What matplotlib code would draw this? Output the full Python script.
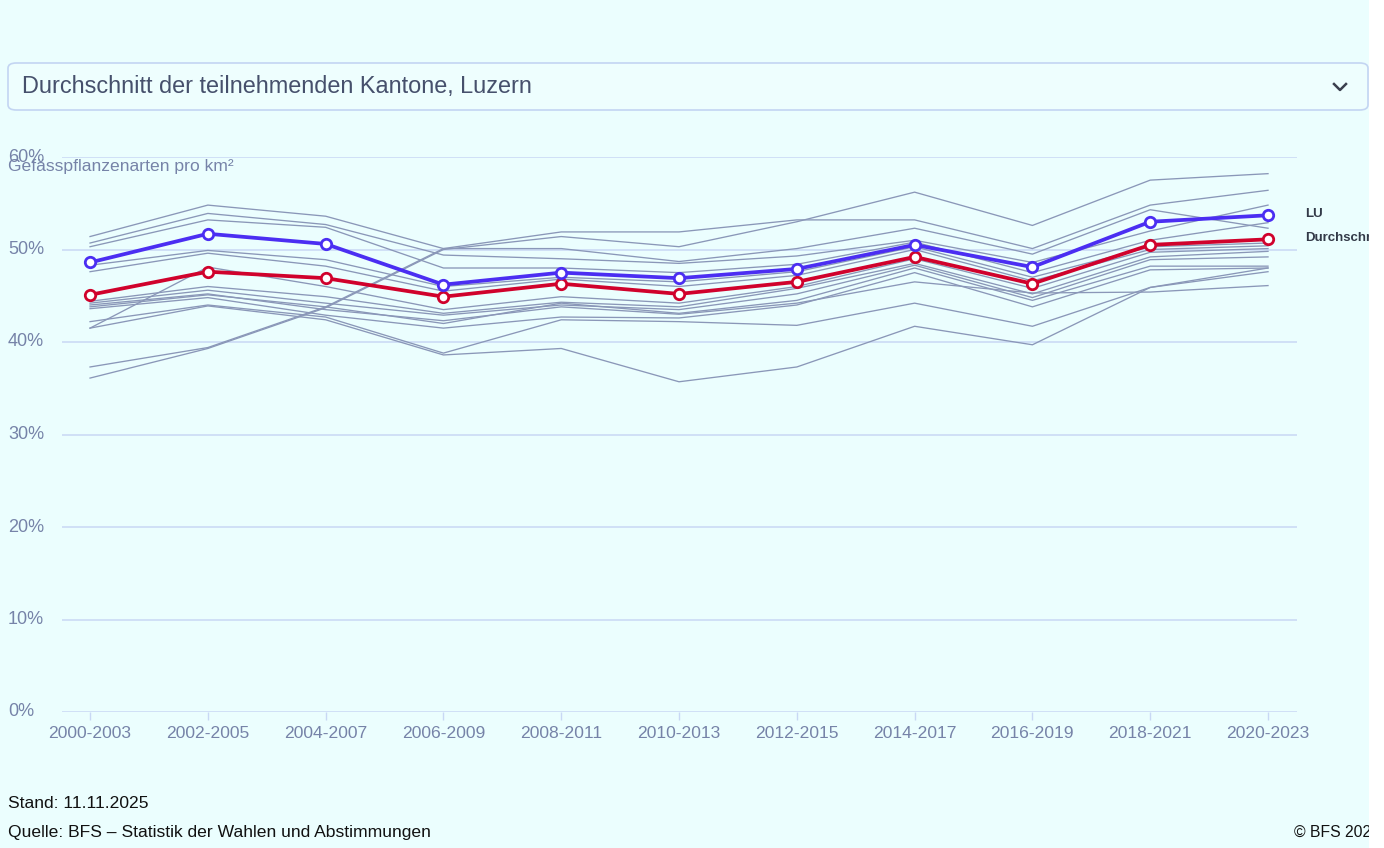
import matplotlib
matplotlib.use("Agg")
import matplotlib.pyplot as plt
from matplotlib.patches import FancyBboxPatch, Rectangle
from matplotlib.lines import Line2D

plt.rcParams["font.family"] = ["Liberation Sans", "DejaVu Sans"]

# ---------- Data ----------
periods = ["2000-2003", "2002-2005", "2004-2007", "2006-2009", "2008-2011", "2010-2013",
           "2012-2015", "2014-2017", "2016-2019", "2018-2021", "2020-2023"]

lu = [48.6, 51.7, 50.6, 46.2, 47.5, 46.9, 47.9, 50.5, 48.1, 53.0, 53.7]
avg = [45.1, 47.6, 46.9, 44.9, 46.3, 45.2, 46.5, 49.2, 46.3, 50.5, 51.1]

# other cantons (grey background lines)
other_cantons = [
    [36.1, 39.3, 43.7, 50.0, 51.4, 50.3, 53.0, 56.2, 52.6, 57.5, 58.2],
    [37.3, 39.4, 43.8, 50.1, 51.9, 51.9, 53.2, 53.2, 50.1, 54.8, 56.4],
    [51.4, 54.8, 53.6, 50.1, 50.1, 48.7, 50.1, 52.3, 49.5, 54.3, 52.3],
    [50.7, 53.9, 52.7, 49.4, 49.0, 48.5, 49.3, 51.0, 48.6, 52.0, 54.8],
    [50.3, 53.2, 52.4, 48.0, 48.0, 47.5, 48.4, 50.8, 47.5, 51.0, 52.9],
    [48.3, 49.9, 48.9, 46.0, 47.0, 46.5, 47.6, 50.3, 47.0, 50.3, 50.7],
    [47.6, 49.6, 48.2, 45.5, 46.8, 46.0, 47.2, 50.0, 46.6, 50.0, 50.4],
    [41.5, 48.1, 46.0, 43.5, 44.9, 44.2, 46.0, 49.0, 45.8, 49.7, 50.1],
    [44.4, 46.0, 44.9, 43.1, 44.3, 43.8, 45.8, 48.5, 45.2, 49.2, 49.8],
    [44.2, 45.6, 44.2, 42.9, 44.0, 43.5, 45.2, 48.3, 44.8, 48.9, 49.2],
    [43.8, 45.1, 43.8, 42.0, 44.2, 43.1, 44.5, 48.0, 44.5, 48.2, 48.2],
    [43.6, 44.8, 42.9, 41.5, 42.7, 42.6, 44.0, 47.5, 43.8, 47.8, 48.0],
    [42.2, 44.0, 42.7, 38.8, 42.4, 42.2, 41.8, 44.2, 41.7, 45.9, 47.6],
    [41.5, 43.9, 42.4, 38.6, 39.3, 35.7, 37.3, 41.7, 39.7, 45.9, 48.0],
    [44.0, 45.2, 43.5, 42.3, 43.8, 43.0, 44.2, 46.5, 45.3, 45.4, 46.1],
]

yticks = [0, 10, 20, 30, 40, 50, 60]

BG = "#ebfefe"
GRID = "#c8d8f4"
TXT = "#7683a8"
GREY = "#8a97b8"
BLUE = "#4b2ef2"
RED = "#d0022c"

W, H = 1384, 848
fig = plt.figure(figsize=(W / 100, H / 100), dpi=100, facecolor=BG)

def px(x, y):
    return x / W, 1 - y / H

# ---------- Dropdown ----------
box = FancyBboxPatch(px(8, 110), (1368 - 8) / W, (110 - 63) / H,
                     boxstyle="round,pad=0,rounding_size=0.006",
                     transform=fig.transFigure, facecolor="#eefefe",
                     edgecolor="#c3d5f2", lw=1.2)
fig.add_artist(box)
fig.text(*px(22, 87), "Durchschnitt der teilnehmenden Kantone, Luzern",
         fontsize=16.9, color="#46506c", va="center", ha="left")
cx, cy = 1340, 87
fig.add_artist(Line2D([(cx - 6) / W, cx / W, (cx + 6) / W],
                      [1 - (cy - 3) / H, 1 - (cy + 3) / H, 1 - (cy - 3) / H],
                      transform=fig.transFigure, color="#3a3f4e", lw=1.8))

# ---------- Chart ----------
ax = fig.add_axes([62 / W, 1 - 712 / H, (1297 - 62) / W, (712 - 157) / H])
ax.set_facecolor(BG)
x = list(range(len(periods)))

for vals in other_cantons:
    ax.plot(x, vals, color=GREY, lw=0.95, zorder=2)

ax.plot(x, avg, color=RED, lw=2.7, marker="o", markersize=7.5,
        markerfacecolor="white", markeredgecolor=RED, markeredgewidth=2, zorder=4)
ax.plot(x, lu, color=BLUE, lw=2.7, marker="o", markersize=7.5,
        markerfacecolor="white", markeredgecolor=BLUE, markeredgewidth=2, zorder=5)

ax.set_xlim(-0.238, 10.246)
ax.set_ylim(0, 60)
ax.set_yticks(yticks)
ax.set_yticklabels([])
for y in yticks:
    ax.axhline(y, color=GRID, lw=1.1, zorder=1)
    fig.text(8 / W, 1 - (712 - y * 9.25) / H, f"{y}%", fontsize=13,
             color=TXT, ha="left", va="center")

ax.set_xticks(x)
ax.set_xticklabels(periods, fontsize=12.6, color=TXT)
ax.tick_params(axis="x", length=6, width=1, color=GRID, pad=4)
ax.tick_params(axis="y", length=0)
for s in ax.spines.values():
    s.set_visible(False)

fig.text(8 / W, 1 - 167 / H, "Gefässpflanzenarten pro km²", fontsize=12.6,
         color=TXT, ha="left", va="center")

# end labels
ax.annotate("LU", xy=(x[-1], lu[-1]), xytext=(26.5, 1), textcoords="offset points",
            fontsize=9.5, fontweight="bold", color="#333a48", va="center",
            annotation_clip=False)
ax.annotate("Durchschnitt", xy=(x[-1], avg[-1]), xytext=(26.5, 1),
            textcoords="offset points", fontsize=9.5, fontweight="bold",
            color="#333a48", va="center", annotation_clip=False)

# ---------- Footer ----------
fig.text(*px(8, 803), "Stand: 11.11.2025", fontsize=12.6, color="#111111", va="center")
fig.text(*px(8, 832), "Quelle: BFS – Statistik der Wahlen und Abstimmungen",
         fontsize=12.6, color="#111111", va="center")
fig.text(*px(1294, 832), "© BFS 2025", fontsize=11.3, color="#111111", va="center")

# white strip on the right edge (clips labels like the original)
fig.add_artist(Rectangle((1369 / W, 0), 15 / W, 1, transform=fig.transFigure,
                         facecolor="white", edgecolor="none", zorder=20))

fig.savefig("out.png", dpi=100, facecolor=BG)
